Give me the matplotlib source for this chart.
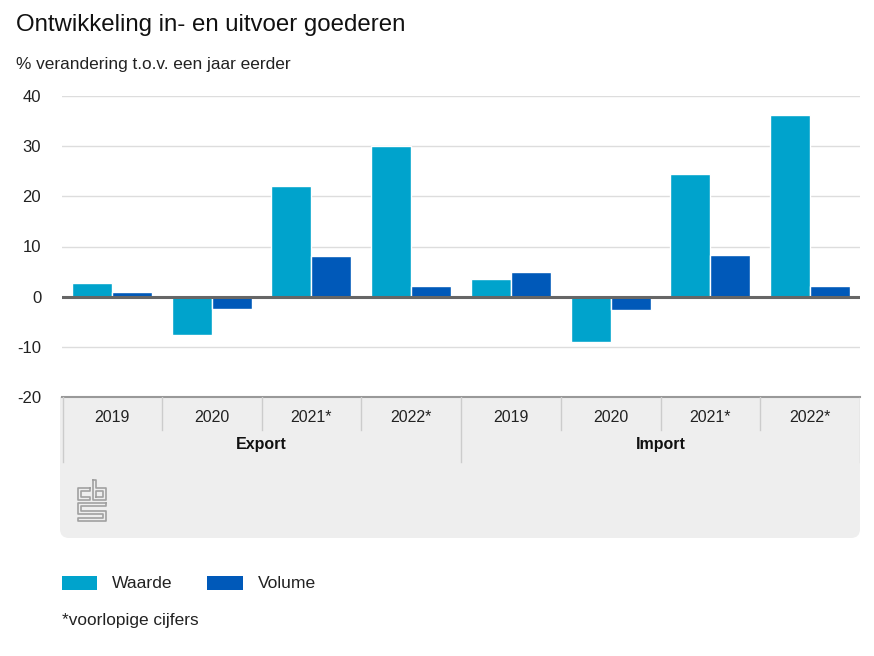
import matplotlib
matplotlib.use("Agg")
import matplotlib.pyplot as plt
from matplotlib.patches import FancyBboxPatch, Rectangle
import numpy as np

plt.rcParams['font.family'] = ['Liberation Sans', 'DejaVu Sans']

years = ["2019", "2020", "2021*", "2022*", "2019", "2020", "2021*", "2022*"]
groups = ["Export", "Import"]
waarde = [2.7, -7.6, 22.1, 30.0, 3.5, -9.1, 24.5, 36.3]
volume = [0.9, -2.5, 8.2, 2.1, 5.0, -2.7, 8.4, 2.1]
yticks = [-20, -10, 0, 10, 20, 30, 40]

C_W = "#00a3cc"
C_V = "#0059b9"

W, H = 874, 656
fig = plt.figure(figsize=(W / 100, H / 100), dpi=100)

def fx(px):
    return px / W

def fy(py):
    return 1 - py / H

# rounded grey box behind the category labels (pixel units, y 397..538)
pb = fig.add_axes([fx(60), fy(538), fx(860) - fx(60), fy(397) - fy(538)])
pb.set_xlim(0, 800)
pb.set_ylim(141, 0)
pb.axis("off")
pb.add_patch(FancyBboxPatch((0, 0), 800, 141, boxstyle="round,pad=0,rounding_size=9",
                            facecolor="#eeeeee", edgecolor="none"))
pb.add_patch(Rectangle((0, 0), 800, 20, facecolor="#eeeeee", edgecolor="none"))

# main axes: x 62..860, y 96..397
ax = fig.add_axes([fx(62), fy(397), fx(860) - fx(62), fy(96) - fy(397)])
x = np.arange(len(years))
ax.bar(x - 0.2, waarde, width=0.4, color=C_W, edgecolor="white", linewidth=1, zorder=3)
ax.bar(x + 0.2, volume, width=0.4, color=C_V, edgecolor="white", linewidth=1, zorder=3)
ax.set_xlim(-0.5, len(years) - 0.5)
ax.set_ylim(-20, 40)
ax.set_yticks(yticks)
ax.set_yticklabels([str(t) for t in yticks], fontsize=12, color="#222222")
ax.tick_params(axis="y", length=0, pad=15)
ax.set_xticks([])
for s in ["top", "right", "left"]:
    ax.spines[s].set_visible(False)
ax.spines["bottom"].set_color("#999999")
ax.spines["bottom"].set_linewidth(1.5)
ax.grid(axis="y", color="#dddddd", linewidth=1, zorder=0)
ax.axhline(0, color="#666666", linewidth=2.2, zorder=4)

# category labels (same x scale as the main axes)
bx = fig.add_axes([fx(62), fy(538), fx(860) - fx(62), fy(397) - fy(538)])
bx.set_xlim(-0.5, len(years) - 0.5)
bx.set_ylim(141, 0)
bx.axis("off")
for i, yl in enumerate(years):
    bx.text(i, 21, yl, ha="center", va="center", fontsize=11.5, color="#222222")
    if i > 0 and i != 4:
        bx.plot([i - 0.5, i - 0.5], [0, 33], color="#cccccc", lw=1)
for g, name in enumerate(groups):
    bx.text(g * 4 + 1.5, 47, name, ha="center", va="center", fontsize=11.5,
            fontweight="bold", color="#111111")
bx.plot([3.5, 3.5], [0, 65], color="#cccccc", lw=1)
bx.plot([-0.49, -0.49], [0, 65], color="#cccccc", lw=1)
bx.plot([7.495, 7.495], [0, 65], color="#cccccc", lw=1)

# cbs logo (approximation)
lg = fig.add_axes([fx(77), fy(522), fx(30), fy(479) - fy(522)])
lg.set_xlim(0, 30)
lg.set_ylim(0, 43)
lg.axis("off")
lc = "#a0a0a0"
lw = 1.2
# 'c'
lg.plot([13, 1, 1, 13, 13, 4, 4, 13, 13], [34, 34, 22, 22, 25, 25, 31, 31, 34],
        color=lc, lw=lw)
# 'b'
lg.plot([16, 16, 29, 29, 19, 19, 16], [42, 22, 22, 34, 34, 42, 42], color=lc, lw=lw)
lg.plot([19, 26, 26, 19, 19], [25, 25, 31, 31, 25], color=lc, lw=lw)
# 's'
lg.plot([29, 1, 1, 26, 26, 1, 1, 29, 29, 4, 4, 29, 29],
        [19, 19, 8.5, 8.5, 4, 4, 1, 1, 11.5, 11.5, 16, 16, 19],
        color=lc, lw=lw)

# titles
fig.text(fx(16), fy(25), "Ontwikkeling in- en uitvoer goederen", fontsize=17.3,
         color="#111111", ha="left", va="center")
fig.text(fx(16), fy(65), "% verandering t.o.v. een jaar eerder", fontsize=12.4,
         color="#222222", ha="left", va="center")

# legend
fig.patches.append(Rectangle((fx(62), fy(590)), fx(35), fy(576) - fy(590),
                             transform=fig.transFigure, facecolor=C_W, edgecolor="none"))
fig.text(fx(112), fy(583), "Waarde", fontsize=12.6, color="#222222", ha="left", va="center")
fig.patches.append(Rectangle((fx(207), fy(590)), fx(36), fy(576) - fy(590),
                             transform=fig.transFigure, facecolor=C_V, edgecolor="none"))
fig.text(fx(258), fy(583), "Volume", fontsize=12.6, color="#222222", ha="left", va="center")
fig.text(fx(62), fy(621), "*voorlopige cijfers", fontsize=12.4, color="#222222",
         ha="left", va="center")

fig.savefig("out.png", dpi=100)
